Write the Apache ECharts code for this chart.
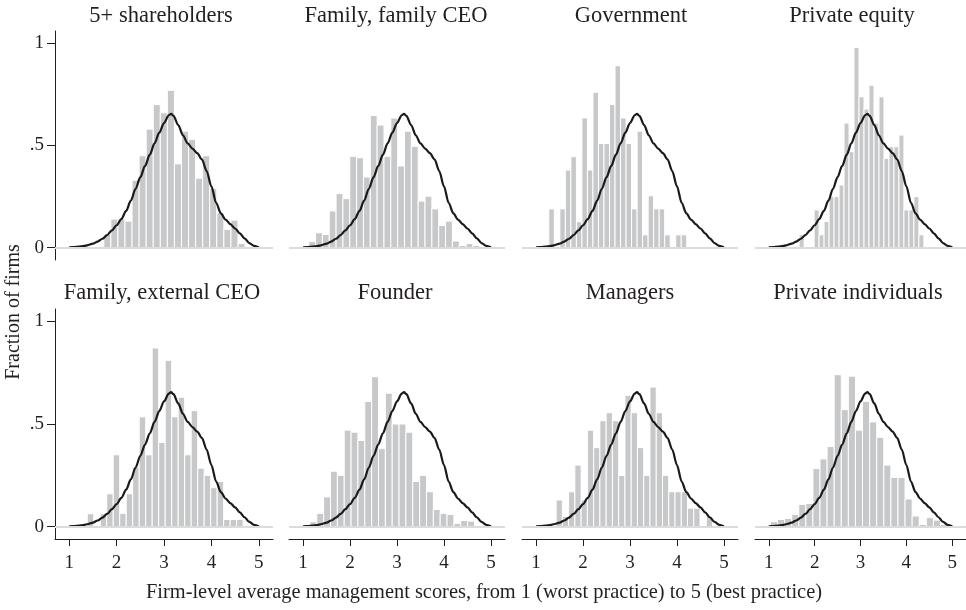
<!DOCTYPE html>
<html>
<head>
<meta charset="utf-8">
<title>Management scores by ownership</title>
<script src="https://cdn.jsdelivr.net/npm/echarts@6.0.0/dist/echarts.min.js"></script>
<style>
  html, body { margin: 0; padding: 0; background: #fff; }
  #chart { width: 966px; height: 610px; }
</style>
</head>
<body>
<div id="chart"></div>
<script>
// panel titles, in reading order
const panelNames = [
  '5+ shareholders', 'Family, family CEO', 'Government', 'Private equity',
  'Family, external CEO', 'Founder', 'Managers', 'Private individuals'
]

// left edge of the first bin and bin width for each panel
const binStart = [1.73, 1.12, 1.271, 1.662, 1.38, 1.0, 1.426, 1.036]
const binWidth = [0.149, 0.1457, 0.1175, 0.1088, 0.1371, 0.146, 0.1333, 0.1545]

// fraction of firms in each bin
const fracShareholders = [0.065, 0.14, 0.14, 0.13, 0.33, 0.45, 0.58, 0.70, 0.66, 0.77, 0.41, 0.57, 0.53, 0.34, 0.45, 0.29, 0.17, 0.09, 0.135, 0.02]
const fracFamilyCeo = [0.03, 0.073, 0.065, 0.18, 0.265, 0.24, 0.447, 0.44, 0.346, 0.647, 0.60, 0.447, 0.634, 0.40, 0.57, 0.496, 0.228, 0.252, 0.19, 0.109, 0.13, 0.033, 0.011, 0.02, 0.011]
const fracGovernment = [0.19, 0, 0.19, 0.38, 0.445, 0.127, 0.635, 0.38, 0.76, 0.51, 0.51, 0.70, 0.89, 0.635, 0.51, 0.19, 0.57, 0.063, 0.254, 0.19, 0.19, 0.063, 0, 0.063, 0.063]
const fracPrivateEquity = [0.063, 0, 0, 0.185, 0.063, 0.128, 0.25, 0.25, 0.307, 0.61, 0.47, 0.98, 0.738, 0.678, 0.795, 0.61, 0.738, 0.437, 0.494, 0.494, 0.551, 0.185, 0.185, 0.25, 0.063]
const fracExternalCeo = [0.063, 0, 0.063, 0.16, 0.35, 0.065, 0.16, 0.29, 0.535, 0.35, 0.87, 0.41, 0.81, 0.535, 0.63, 0.35, 0.565, 0.285, 0.25, 0.19, 0.22, 0.035, 0.035, 0.035]
const fracFounder = [0.01, 0.024, 0.065, 0.145, 0.27, 0.25, 0.47, 0.46, 0.42, 0.61, 0.73, 0.38, 0.65, 0.50, 0.50, 0.46, 0.22, 0.25, 0.17, 0.084, 0.065, 0.06, 0.016, 0.03, 0.027]
const fracManagers = [0.13, 0.05, 0.17, 0.30, 0.13, 0.47, 0.385, 0.516, 0.555, 0.516, 0.25, 0.64, 0.555, 0.385, 0.25, 0.68, 0.555, 0.25, 0.17, 0.17, 0.17, 0.09, 0.09, 0, 0.05]
const fracIndividuals = [0.024, 0.035, 0.04, 0.06, 0.108, 0.113, 0.283, 0.33, 0.39, 0.74, 0.57, 0.733, 0.47, 0.61, 0.51, 0.435, 0.30, 0.24, 0.24, 0.135, 0.052, 0.011, 0.044, 0.032, 0.011]

const panelFracs = [
  fracShareholders, fracFamilyCeo, fracGovernment, fracPrivateEquity,
  fracExternalCeo, fracFounder, fracManagers, fracIndividuals
]

// density of all firms (same curve in every panel)
const densityX = [1.0, 1.1, 1.2, 1.3, 1.4, 1.5, 1.6, 1.7, 1.8, 1.9, 2.0, 2.1, 2.2, 2.3, 2.4, 2.5, 2.6, 2.7, 2.8, 2.9, 3.0,
  3.1, 3.15, 3.2, 3.3, 3.4, 3.5, 3.6, 3.7, 3.8, 3.9, 4.0, 4.1, 4.2, 4.3, 4.4, 4.5, 4.6, 4.7, 4.8, 4.9, 5.0]
const densityY = [0.002, 0.003, 0.005, 0.008, 0.013, 0.02, 0.03, 0.044, 0.062, 0.085, 0.11, 0.14, 0.18, 0.23, 0.288, 0.345, 0.40, 0.455, 0.51, 0.563, 0.61,
  0.648, 0.655, 0.645, 0.60, 0.55, 0.51, 0.485, 0.463, 0.432, 0.375, 0.30, 0.22, 0.168, 0.137, 0.115, 0.094, 0.07, 0.046, 0.023, 0.009, 0.002]

const xTicks = [1, 2, 3, 4, 5]
const yTicks = [0, 0.5, 1]
const yTickLabels = ['0', '.5', '1']

const serif = '"Liberation Serif", "DejaVu Serif", serif'
const ink = '#231f20'

const gridLeft = [55, 289, 522, 755]
const gridWidth = [218, 216, 216, 215]
const gridTop = [31, 309]
const gridHeight = [229, 230]
const titleX = [[161, 396, 631, 852], [162, 395, 630, 858]]
const titleY = [16, 293]

const chart = echarts.init(document.getElementById('chart'))

function renderBin(params, api) {
  const top = api.coord([api.value(0), api.value(2)])
  const base = api.coord([api.value(1), 0])
  return {
    type: 'rect',
    shape: { x: top[0], y: top[1], width: base[0] - top[0], height: base[1] - top[1] },
    style: { fill: '#c7c8ca', stroke: '#fff', lineWidth: 1 }
  }
}

const grid = []
const xAxis = []
const yAxis = []
const series = []
const graphic = []

panelNames.forEach((name, i) => {
  const row = Math.floor(i / 4)
  const col = i % 4
  const bottomRow = row === 1
  const firstCol = col === 0

  grid.push({ left: gridLeft[col], top: gridTop[row], width: gridWidth[col], height: gridHeight[row] })

  xAxis.push({
    type: 'value', gridIndex: i, min: 0.7, max: 5.3,
    axisLine: { show: bottomRow, onZero: false, lineStyle: { color: ink, width: 1 } },
    axisTick: { show: bottomRow, customValues: xTicks, length: 7, lineStyle: { color: ink } },
    axisLabel: {
      show: bottomRow, customValues: xTicks, margin: 15,
      fontFamily: serif, fontSize: 19, color: ink
    },
    splitLine: { show: false }
  })

  yAxis.push({
    type: 'value', gridIndex: i, min: -0.06, max: 1.06,
    axisLine: { show: firstCol, lineStyle: { color: ink, width: 1 } },
    axisTick: { show: firstCol, customValues: yTicks, length: 8, lineStyle: { color: ink } },
    axisLabel: {
      show: firstCol, customValues: yTicks, margin: 11,
      fontFamily: serif, fontSize: 19, color: ink,
      formatter: v => yTickLabels[yTicks.indexOf(v)]
    },
    splitLine: { show: false }
  })

  // light baseline at zero
  series.push({
    type: 'line', xAxisIndex: i, yAxisIndex: i, data: [], silent: true, z: 1,
    markLine: {
      silent: true, symbol: 'none', label: { show: false },
      lineStyle: { color: '#dcdcdc', width: 2, type: 'solid' },
      data: [{ yAxis: 0 }]
    }
  })

  const fracs = panelFracs[i]
  series.push({
    type: 'custom', xAxisIndex: i, yAxisIndex: i, z: 2,
    renderItem: renderBin,
    encode: { x: [0, 1], y: 2 },
    data: fracs.map((f, k) => [binStart[i] + k * binWidth[i], binStart[i] + (k + 1) * binWidth[i], f])
  })

  series.push({
    type: 'line', xAxisIndex: i, yAxisIndex: i, z: 3,
    data: densityX.map((x, k) => [x, densityY[k]]),
    smooth: 0.3, smoothMonotone: 'x', showSymbol: false, silent: true,
    lineStyle: { color: '#1a1a1a', width: 2.2 }
  })

  graphic.push({
    type: 'text', x: titleX[row][col], y: titleY[row],
    style: { text: name, font: '22.5px ' + serif, fill: ink, textAlign: 'center', textVerticalAlign: 'middle' }
  })
})

graphic.push({
  type: 'text', x: 484, y: 593,
  style: {
    text: 'Firm-level average management scores, from 1 (worst practice) to 5 (best practice)',
    font: '20.4px ' + serif, fill: ink, textAlign: 'center', textVerticalAlign: 'middle'
  }
})
graphic.push({
  type: 'text', x: 14, y: 312, rotation: Math.PI / 2,
  style: { text: 'Fraction of firms', font: '20px ' + serif, fill: ink, textAlign: 'center', textVerticalAlign: 'middle' }
})

chart.setOption({
  animation: false,
  backgroundColor: '#fff',
  grid, xAxis, yAxis, series, graphic
})
window.addEventListener('resize', () => chart.resize())
</script>
</body>
</html>
